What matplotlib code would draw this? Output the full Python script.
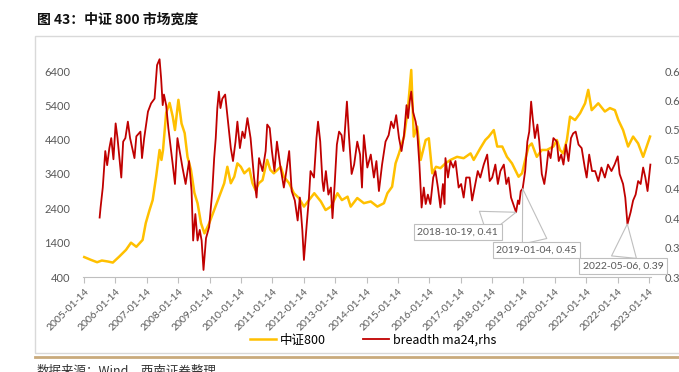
import matplotlib.pyplot as plt
from matplotlib.lines import Line2D
from matplotlib.patches import Rectangle

# CSI 800 index (left axis), x in decimal years
csi_x = [2005.04, 2005.25, 2005.45, 2005.6, 2005.8, 2005.95, 2006.15, 2006.37, 2006.53, 2006.7,
         2006.9, 2007.0, 2007.12, 2007.22, 2007.33, 2007.44, 2007.5, 2007.55, 2007.65, 2007.76,
         2007.86, 2007.93, 2008.04, 2008.14, 2008.24, 2008.33, 2008.44, 2008.55, 2008.65, 2008.76,
         2008.87, 2009.02, 2009.18, 2009.34, 2009.5, 2009.6, 2009.71, 2009.82, 2009.92, 2010.03,
         2010.14, 2010.3, 2010.4, 2010.5, 2010.6, 2010.72, 2010.87, 2010.97, 2011.08, 2011.3,
         2011.4, 2011.57, 2011.72, 2011.88, 2012.04, 2012.2, 2012.37, 2012.58, 2012.73, 2012.9,
         2013.11, 2013.25, 2013.43, 2013.53, 2013.74, 2013.95, 2014.17, 2014.38, 2014.59, 2014.7,
         2014.85, 2014.96, 2015.07, 2015.23, 2015.35, 2015.46, 2015.54, 2015.65, 2015.76, 2015.92,
         2016.02, 2016.13, 2016.25, 2016.39, 2016.55, 2016.71, 2016.92, 2017.13, 2017.35, 2017.45,
         2017.66, 2017.82, 2017.93, 2018.09, 2018.2, 2018.36, 2018.51, 2018.67, 2018.88, 2018.99,
         2019.09, 2019.2, 2019.3, 2019.46, 2019.62, 2019.78, 2019.99, 2020.1, 2020.2, 2020.3,
         2020.42, 2020.52, 2020.68, 2020.84, 2021.0, 2021.1, 2021.21, 2021.42, 2021.63, 2021.79,
         2021.95, 2022.06, 2022.21, 2022.37, 2022.53, 2022.69, 2022.85, 2022.96, 2023.07]
csi_val = [980, 900, 830, 880, 850, 820, 990, 1190, 1400, 1280,
           1480, 1970, 2350, 2640, 3320, 4100, 3810, 4100, 5180, 5470,
           5070, 4680, 5560, 4870, 4590, 3900, 3520, 2850, 2550, 1970,
           1670, 1960, 2350, 2740, 3130, 3610, 3130, 3320, 3710, 3610,
           3420, 3560, 3130, 2930, 3130, 3220, 3810, 3520, 3420, 3610,
           3320, 3130, 2840, 2700, 2450, 2640, 2840, 2600, 2350, 2450,
           2840, 2640, 2740, 2450, 2700, 2550, 2600, 2450, 2550, 2840,
           3030, 3710, 4000, 4490, 5260, 6430, 4490, 4780, 3810, 4390,
           4440, 3420, 3610, 3570, 3710, 3810, 3900, 3860, 4000, 3810,
           4150, 4390, 4490, 4680, 4200, 4200, 3900, 3710, 3320, 3420,
           3810, 4200, 4290, 3900, 4100, 4100, 4200, 4390, 4100, 4000,
           4390, 5070, 4970, 5170, 5460, 5850, 5260, 5460, 5220, 5320,
           5260, 4970, 4680, 4200, 4490, 4290, 3900, 4200, 4490]

# breadth ma24 (right axis)
br_x = [2005.53, 2005.56, 2005.63, 2005.71, 2005.77, 2005.84, 2005.9, 2005.97, 2006.04, 2006.1,
        2006.22, 2006.28, 2006.35, 2006.43, 2006.5, 2006.64, 2006.7, 2006.83, 2006.88, 2006.95,
        2007.07, 2007.17, 2007.28, 2007.36, 2007.44, 2007.49, 2007.54, 2007.58, 2007.65, 2007.72,
        2007.86, 2007.93, 2008.01, 2008.08, 2008.17, 2008.27, 2008.38, 2008.46, 2008.51, 2008.58,
        2008.65, 2008.72, 2008.78, 2008.84, 2008.92, 2009.02, 2009.12, 2009.18, 2009.23, 2009.28,
        2009.33, 2009.38, 2009.44, 2009.53, 2009.61, 2009.71, 2009.78, 2009.86, 2009.92, 2010.0,
        2010.08, 2010.15, 2010.24, 2010.34, 2010.45, 2010.53, 2010.61, 2010.72, 2010.82, 2010.87,
        2010.95, 2011.02, 2011.1, 2011.18, 2011.28, 2011.4, 2011.48, 2011.57, 2011.65, 2011.75,
        2011.84, 2011.91, 2011.99, 2012.04, 2012.13, 2012.2, 2012.25, 2012.36, 2012.44, 2012.49,
        2012.56, 2012.63, 2012.67, 2012.74, 2012.82, 2012.9, 2012.95, 2013.02, 2013.09, 2013.16,
        2013.24, 2013.3, 2013.41, 2013.48, 2013.56, 2013.64, 2013.74, 2013.83, 2013.89, 2013.95,
        2014.06, 2014.17, 2014.27, 2014.35, 2014.43, 2014.53, 2014.64, 2014.74, 2014.82, 2014.9,
        2014.98, 2015.07, 2015.15, 2015.23, 2015.31, 2015.36, 2015.41, 2015.46, 2015.52, 2015.6,
        2015.65, 2015.72, 2015.79, 2015.86, 2015.92, 2015.99, 2016.07, 2016.16, 2016.23, 2016.31,
        2016.39, 2016.47, 2016.52, 2016.55, 2016.63, 2016.71, 2016.8, 2016.87, 2016.97, 2017.05,
        2017.13, 2017.21, 2017.32, 2017.4, 2017.5, 2017.58, 2017.66, 2017.77, 2017.88, 2017.96,
        2018.04, 2018.14, 2018.22, 2018.3, 2018.41, 2018.49, 2018.56, 2018.64, 2018.8, 2018.86,
        2018.9, 2018.95, 2019.01, 2019.09, 2019.16, 2019.22, 2019.28, 2019.33, 2019.4, 2019.48,
        2019.54, 2019.62, 2019.7, 2019.76, 2019.83, 2019.9, 2019.99, 2020.1, 2020.16, 2020.24,
        2020.31, 2020.39, 2020.47, 2020.55, 2020.62, 2020.7, 2020.79, 2020.89, 2020.99, 2021.05,
        2021.13, 2021.22, 2021.32, 2021.42, 2021.52, 2021.63, 2021.73, 2021.84, 2021.94, 2022.04,
        2022.1, 2022.21, 2022.28, 2022.35, 2022.45, 2022.53, 2022.61, 2022.69, 2022.77, 2022.85,
        2022.92, 2022.99, 2023.08]
br_val = [0.401, 0.418, 0.452, 0.514, 0.49, 0.519, 0.536, 0.50, 0.561, 0.536,
          0.469, 0.53, 0.536, 0.564, 0.536, 0.502, 0.539, 0.547, 0.502, 0.536,
          0.581, 0.595, 0.603, 0.66, 0.67, 0.637, 0.592, 0.61, 0.592, 0.553,
          0.491, 0.458, 0.536, 0.514, 0.486, 0.458, 0.497, 0.446, 0.362, 0.407,
          0.362, 0.38, 0.362, 0.312, 0.366, 0.385, 0.446, 0.502, 0.536, 0.587,
          0.615, 0.587, 0.603, 0.61, 0.57, 0.519, 0.497, 0.53, 0.564, 0.519,
          0.547, 0.536, 0.57, 0.536, 0.469, 0.435, 0.502, 0.48, 0.514, 0.559,
          0.553, 0.514, 0.48, 0.53, 0.491, 0.452, 0.48, 0.514, 0.446, 0.43,
          0.396, 0.435, 0.379, 0.329, 0.39, 0.435, 0.48, 0.469, 0.536, 0.564,
          0.53, 0.463, 0.446, 0.48, 0.44, 0.452, 0.40, 0.458, 0.525, 0.547,
          0.541, 0.514, 0.598, 0.536, 0.475, 0.491, 0.53, 0.508, 0.452, 0.541,
          0.486, 0.508, 0.469, 0.497, 0.446, 0.491, 0.53, 0.541, 0.564, 0.553,
          0.575, 0.536, 0.514, 0.541, 0.592, 0.57, 0.598, 0.615, 0.58, 0.564,
          0.547, 0.491, 0.418, 0.452, 0.424, 0.44, 0.424, 0.469, 0.48, 0.452,
          0.418, 0.458, 0.424, 0.502, 0.469, 0.497, 0.486, 0.497, 0.452, 0.458,
          0.435, 0.469, 0.469, 0.43, 0.458, 0.48, 0.469, 0.491, 0.508, 0.463,
          0.469, 0.491, 0.458, 0.48, 0.491, 0.458, 0.469, 0.435, 0.41, 0.43,
          0.424, 0.446, 0.45, 0.48, 0.53, 0.547, 0.598, 0.57, 0.536, 0.559,
          0.53, 0.475, 0.458, 0.48, 0.514, 0.502, 0.536, 0.53, 0.497, 0.508,
          0.491, 0.525, 0.497, 0.536, 0.544, 0.547, 0.525, 0.519, 0.486, 0.469,
          0.508, 0.48, 0.48, 0.463, 0.486, 0.469, 0.491, 0.48, 0.491, 0.505,
          0.475, 0.458, 0.435, 0.39, 0.41, 0.43, 0.44, 0.463, 0.458, 0.486,
          0.469, 0.446, 0.491]

years = list(range(2005, 2024))
tick_labels = [f"{y}-01-14" for y in years]

# labelled points: (text, x, value, offset in points)
callouts = [("2018-10-19, 0.41", 2018.80, 0.41, (-42, -14)),
            ("2019-01-04, 0.45", 2019.01, 0.45, (10, -44)),
            ("2022-05-06, 0.39", 2022.345, 0.39, (-3, -30))]

W, H = 679, 372
fig = plt.figure(figsize=(W / 100, H / 100), dpi=100)
grey = "#595959"
tick_font = "Lato"

# outer frame and bottom rule
fig.patches.append(Rectangle((35 / W, 1 - 353 / H), 700 / W, 317 / H, transform=fig.transFigure,
                             fill=False, edgecolor="#D9D9D9", lw=1))
fig.add_artist(Line2D([35 / W, 1], [1 - 357 / H] * 2, transform=fig.transFigure,
                      color="#C9AA7C", lw=2))

fig.text(37 / W, 1 - 20 / H, "图 43：中证 800 市场宽度", fontsize=10, fontweight="bold",
         family=["Noto Sans CJK SC", "DejaVu Sans"], va="center", ha="left", color="#111111")
fig.text(37 / W, 1 - 365 / H, "数据来源：Wind，西南证券整理", fontsize=9, style="italic",
         family=["Noto Sans CJK SC", "DejaVu Sans"], va="top", ha="left", color="#333333")

ax = fig.add_axes([83 / W, 1 - 277 / H, (651 - 83) / W, (277 - 71) / H])
ax2 = ax.twinx()

ln1, = ax.plot(csi_x, csi_val, color="#FFC000", lw=1.8, label="中证800", clip_on=False)
ln2, = ax2.plot(br_x, br_val, color="#C00000", lw=1.3, label="breadth ma24,rhs", clip_on=False)

ax.set_xlim(2005.0, 2023.1)
ax.set_ylim(400, 6400)
ax2.set_ylim(0.30, 0.65)
ax.set_yticks(range(400, 6401, 1000))
ax2.set_yticks([0.30, 0.35, 0.40, 0.45, 0.50, 0.55, 0.60, 0.65])
ax2.set_yticklabels([f"{v:.2f}" for v in ax2.get_yticks()])

ax.set_xticks([y + 13 / 365 for y in years])
ax.set_xticklabels(tick_labels, rotation=45, ha="right", rotation_mode="anchor")

for a in (ax, ax2):
    for s in a.spines.values():
        s.set_visible(False)
ax.spines["bottom"].set_visible(True)
ax.spines["bottom"].set_color("#BFBFBF")

ax.tick_params(axis="x", length=4, color="#BFBFBF", labelsize=7.5, labelcolor=grey, pad=3)
ax.tick_params(axis="y", length=0, labelsize=8, labelcolor=grey, pad=9)
ax2.tick_params(axis="y", length=0, labelsize=8, labelcolor=grey, pad=10)
for lbl in ax.get_xticklabels() + ax.get_yticklabels() + ax2.get_yticklabels():
    lbl.set_family(tick_font)

for text, x, v, off in callouts:
    ax2.annotate(text, xy=(x, v), xytext=off, textcoords="offset points",
                 ha="center", va="center", fontsize=7.5, color=grey, family=tick_font,
                 bbox=dict(boxstyle="square,pad=0.35", fc="white", ec="#BFBFBF", lw=0.8),
                 arrowprops=dict(arrowstyle="wedge,tail_width=2.4,shrink_factor=0.5",
                                 fc="white", ec="#BFBFBF", lw=0.8, shrinkA=0, shrinkB=0))

fig.legend([ln1, ln2], ["中证800", "breadth ma24,rhs"], loc="center",
           bbox_to_anchor=(373 / W, 1 - 340 / H), ncol=2, frameon=False,
           prop={"family": ["Noto Sans CJK SC", "DejaVu Sans"], "size": 9},
           handlelength=2.1, handletextpad=0.3, columnspacing=3.0)

fig.savefig("out.png", dpi=100)
